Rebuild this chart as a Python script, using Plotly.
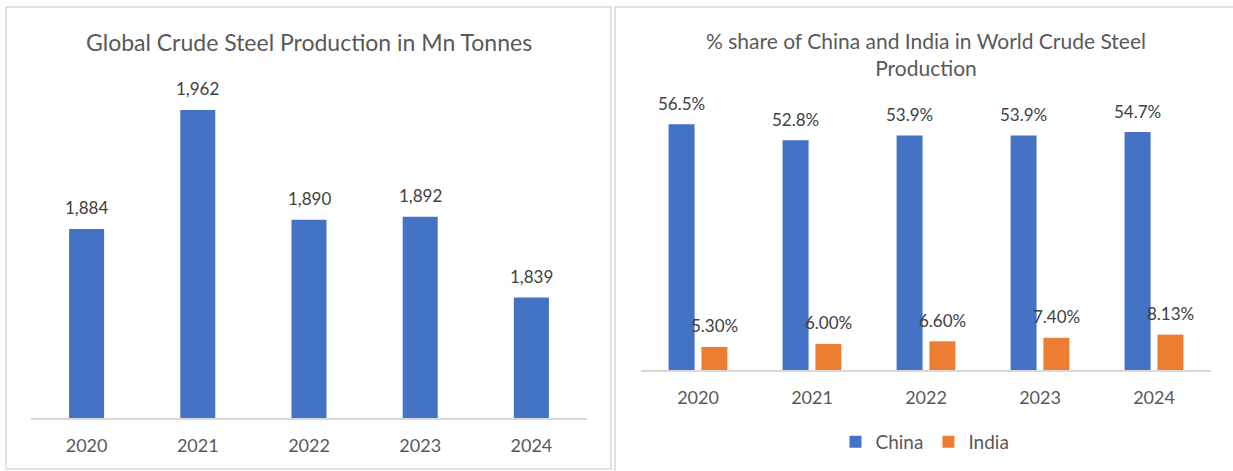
import plotly.graph_objects as go

# ---------------- data ----------------
years = ["2020", "2021", "2022", "2023", "2024"]
world_production = [1884, 1962, 1890, 1892, 1839]
china_share = [56.5, 52.8, 53.9, 53.9, 54.7]
india_share = [5.30, 6.00, 6.60, 7.40, 8.13]

left_title = "Global Crude Steel Production in Mn Tonnes"
right_title = "% share of China and India in World Crude Steel<br>Production"

# ---------------- style ----------------
W, H = 1233, 471
BLUE = "#4472C4"
ORANGE = "#ED7D31"
TXT = "#595959"
LBL = "#404040"
FONT = "Lato"
AXIS_LINE = "#D9D9D9"

pos = list(range(len(years)))


def fx(px):
    return px / W


def fy(py):
    return 1 - py / H


fig = go.Figure()

fig.add_trace(go.Bar(
    x=pos, y=world_production, xaxis="x", yaxis="y",
    marker=dict(color=BLUE, line=dict(width=0)),
    width=0.315, showlegend=False,
))
fig.add_trace(go.Bar(
    x=pos, y=china_share, xaxis="x2", yaxis="y2", name="China",
    marker=dict(color=BLUE, line=dict(width=0)),
    width=0.228, offset=-0.258,
))
fig.add_trace(go.Bar(
    x=pos, y=india_share, xaxis="x2", yaxis="y2", name="India",
    marker=dict(color=ORANGE, line=dict(width=0)),
    width=0.228, offset=0.03,
))

annotations = []
for p, v in zip(pos, world_production):
    annotations.append(dict(
        x=p, y=v, xref="x", yref="y", text=f"{v:,}", showarrow=False,
        yanchor="middle", yshift=21, font=dict(family=FONT, size=17, color=LBL),
    ))
for p, v in zip(pos, china_share):
    annotations.append(dict(
        x=p - 0.144, y=v, xref="x2", yref="y2", text=f"{v:.1f}%", showarrow=False,
        yanchor="middle", yshift=21,
        font=dict(family=FONT, size=17, color=LBL),
    ))
for p, v in zip(pos, india_share):
    annotations.append(dict(
        x=p + 0.144, y=v, xref="x2", yref="y2", text=f"{v:.2f}%", showarrow=False,
        yanchor="middle", yshift=21,
        font=dict(family=FONT, size=17, color=LBL),
    ))

annotations.append(dict(
    x=fx(309), y=fy(42), xref="paper", yref="paper", text=left_title,
    showarrow=False, xanchor="center", yanchor="middle",
    font=dict(family=FONT, size=23, color=TXT),
))
annotations.append(dict(
    x=fx(926), y=fy(54), xref="paper", yref="paper", text=right_title,
    showarrow=False, xanchor="center", yanchor="middle",
    font=dict(family=FONT, size=21, color=TXT),
))

shapes = [
    dict(type="rect", xref="paper", yref="paper",
         x0=fx(6), x1=fx(611), y0=fy(469), y1=fy(7),
         line=dict(color=AXIS_LINE, width=1.5), layer="below"),
    dict(type="rect", xref="paper", yref="paper",
         x0=fx(615), x1=fx(1245), y0=fy(480), y1=fy(7),
         line=dict(color=AXIS_LINE, width=1.5), layer="below"),
]

xaxis_common = dict(
    type="linear", range=[-0.5, len(years) - 0.5],
    tickmode="array", tickvals=pos, ticktext=years,
    showline=True, linecolor=AXIS_LINE, linewidth=1.5,
    ticks="", showgrid=False, zeroline=False, fixedrange=True,
    tickfont=dict(family=FONT, size=18, color=TXT), ticklabelstandoff=11,
)
yaxis_common = dict(visible=False, showgrid=False, zeroline=False, fixedrange=True)

fig.update_layout(
    width=W, height=H,
    margin=dict(l=0, r=0, t=0, b=0),
    paper_bgcolor="white", plot_bgcolor="white",
    barmode="overlay",
    font=dict(family=FONT, color=TXT),
    xaxis=dict(domain=[fx(31), fx(587)], anchor="y", **xaxis_common),
    yaxis=dict(domain=[fy(418), fy(52)], anchor="x", range=[1760, 2000], **yaxis_common),
    xaxis2=dict(domain=[fx(641), fx(1211)], anchor="y2", **xaxis_common),
    yaxis2=dict(domain=[fy(370), fy(109)], anchor="x2", range=[0, 60], **yaxis_common),
    legend=dict(
        orientation="h", x=fx(925), xanchor="center", y=fy(442), yanchor="middle",
        font=dict(family=FONT, size=19, color=TXT), itemwidth=30,
        bgcolor="rgba(0,0,0,0)",
    ),
    annotations=annotations,
    shapes=shapes,
)

fig.write_html("out.html")
